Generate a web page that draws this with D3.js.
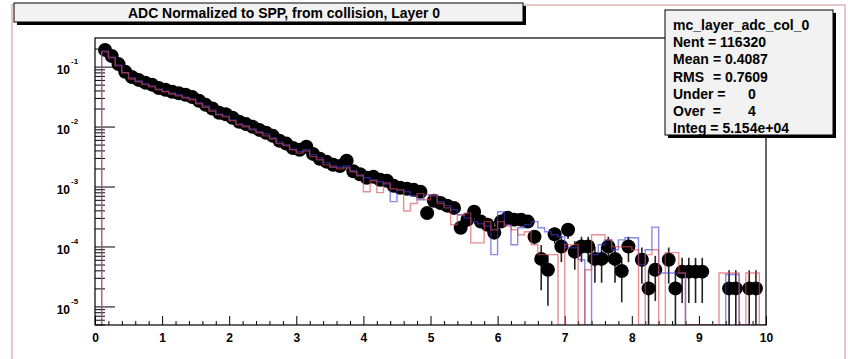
<!DOCTYPE html>
<html>
<head>
<meta charset="utf-8">
<script src="https://cdn.jsdelivr.net/npm/d3@7"></script>
<style>
  html, body { margin: 0; padding: 0; background: #fff; }
  svg { display: block; }
  text { font-family: "Liberation Sans", Arial, Helvetica, sans-serif; font-weight: bold; fill: #000; }
</style>
</head>
<body>
<svg id="chart" width="848" height="359"></svg>
<script>
// histogram binning: 100 bins of 0.1 from 0 to 10
const binEdges = d3.range(101).map(i => i / 10);

// data (black markers), bin contents
const dataValues = [
  0, 1.9e-1, 1.5e-1, 1.1e-1, 8.2e-2, 6.7e-2, 6.0e-2, 5.4e-2, 5.0e-2, 4.4e-2,
  4.1e-2, 3.8e-2, 3.6e-2, 3.4e-2, 3.1e-2, 2.7e-2, 2.3e-2, 2.0e-2, 1.7e-2, 1.6e-2,
  1.4e-2, 1.2e-2, 1.1e-2, 9.9e-3, 8.8e-3, 7.9e-3, 7.0e-3, 5.8e-3, 5.2e-3, 4.4e-3,
  4.1e-3, 4.6e-3, 3.5e-3, 2.9e-3, 2.6e-3, 2.3e-3, 2.2e-3, 2.7e-3, 1.8e-3, 1.6e-3,
  1.4e-3, 1.45e-3, 1.3e-3, 1.25e-3, 1.03e-3, 9.5e-4, 9.2e-4, 8.8e-4, 8.2e-4, 3.6e-4,
  5.8e-4, 5.3e-4, 4.8e-4, 4.4e-4, 2.05e-4, 2.8e-4, 3.8e-4, 2.6e-4, 2.3e-4, 1.7e-4,
  2.6e-4, 3.0e-4, 2.8e-4, 2.8e-4, 2.6e-4, 1.45e-4, 6.2e-5, 4.1e-5, 1.6e-4, 1.0e-4,
  1.9e-4, 8.2e-5, 1.0e-4, 1.0e-4, 6.2e-5, 6.2e-5, 1.0e-4, 6.2e-5, 3.9e-5, 1.0e-4,
  0, 6.0e-5, 2.0e-5, 4.1e-5, 0, 6.0e-5, 2.0e-5, 3.8e-5, 3.8e-5, 3.8e-5,
  3.8e-5, 0, 0, 0, 2.0e-5, 2.0e-5, 0, 2.0e-5, 2.0e-5, 0
];

// relative errors on data
const dataRelErr = [
  0, 0.01, 0.01, 0.01, 0.01, 0.01, 0.01, 0.01, 0.01, 0.01,
  0.02, 0.02, 0.02, 0.02, 0.02, 0.02, 0.02, 0.02, 0.02, 0.02,
  0.03, 0.03, 0.03, 0.03, 0.03, 0.03, 0.03, 0.03, 0.03, 0.03,
  0.05, 0.05, 0.05, 0.05, 0.05, 0.05, 0.05, 0.05, 0.05, 0.05,
  0.08, 0.08, 0.08, 0.08, 0.08, 0.08, 0.08, 0.08, 0.08, 0.12,
  0.15, 0.15, 0.15, 0.15, 0.2, 0.15, 0.15, 0.15, 0.18, 0.2,
  0.2, 0.2, 0.2, 0.2, 0.2, 0.25, 0.7, 0.75, 0.3, 0.45,
  0.3, 0.5, 0.45, 0.45, 0.6, 0.6, 0.45, 0.6, 0.7, 0.45,
  0, 0.6, 1.0, 0.7, 0, 0.6, 1.0, 0.7, 0.7, 0.7,
  0.7, 0, 0, 0, 1.0, 1.0, 0, 1.0, 1.0, 0
];

// simulation, red histogram
const mcRedValues = [
  0, 1.76e-1, 1.4e-1, 1.03e-1, 7.9e-2, 6.2e-2, 5.6e-2, 5.0e-2, 4.6e-2, 4.1e-2,
  3.8e-2, 3.5e-2, 3.25e-2, 3.0e-2, 2.8e-2, 2.4e-2, 2.1e-2, 1.8e-2, 1.57e-2, 1.45e-2,
  1.25e-2, 1.07e-2, 9.9e-3, 8.8e-3, 7.9e-3, 7.0e-3, 6.2e-3, 5.2e-3, 4.8e-3, 4.1e-3,
  3.6e-3, 3.9e-3, 3.15e-3, 2.8e-3, 2.3e-3, 2.1e-3, 1.97e-3, 2.05e-3, 1.76e-3, 1.51e-3,
  8.2e-4, 1.25e-3, 7.9e-4, 1.15e-3, 9.2e-4, 8.8e-4, 3.9e-4, 5.2e-4, 7.6e-4, 6.0e-4,
  7.3e-4, 5.2e-4, 4.4e-4, 2.3e-4, 3.3e-4, 3.6e-4, 1.15e-4, 1.15e-4, 2.6e-4, 1.9e-4,
  2.6e-4, 2.2e-4, 1.9e-4, 1.57e-4, 1.76e-4, 1.07e-4, 7.3e-5, 7.3e-5, 7.3e-5, 0,
  1.07e-4, 1.07e-4, 0, 4.1e-5, 1.57e-4, 1.57e-4, 1.29e-4, 9.9e-5, 9.9e-5, 9.9e-5,
  8.8e-5, 0, 7.3e-5, 8.8e-5, 0, 7.9e-5, 7.9e-5, 3.6e-5, 0, 0,
  0, 0, 0, 3.6e-5, 3.6e-5, 3.6e-5, 0, 3.6e-5, 3.6e-5, 0
];

// simulation, blue histogram
const mcBlueValues = [
  0, 1.83e-1, 1.45e-1, 1.07e-1, 7.9e-2, 6.5e-2, 5.8e-2, 5.2e-2, 4.8e-2, 4.25e-2,
  3.9e-2, 3.6e-2, 3.4e-2, 3.1e-2, 2.9e-2, 2.5e-2, 2.2e-2, 1.9e-2, 1.63e-2, 1.51e-2,
  1.29e-2, 1.11e-2, 1.03e-2, 9.2e-3, 8.2e-3, 7.6e-3, 6.5e-3, 5.5e-3, 5.0e-3, 4.2e-3,
  3.8e-3, 4.1e-3, 3.4e-3, 3.0e-3, 2.5e-3, 2.2e-3, 2.1e-3, 2.2e-3, 1.83e-3, 1.57e-3,
  1.4e-3, 1.29e-3, 1.2e-3, 1.1e-3, 5.6e-4, 8.8e-4, 8.2e-4, 7.0e-4, 6.0e-4, 7.3e-4,
  7.0e-4, 5.6e-4, 4.8e-4, 4.1e-4, 3.4e-4, 3.0e-4, 2.6e-4, 2.4e-4, 2.2e-4, 7.3e-5,
  3.8e-4, 2.3e-4, 1.07e-4, 2.05e-4, 2.3e-4, 2.6e-4, 2.05e-4, 1.76e-4, 1.57e-4, 1.45e-4,
  9.5e-5, 9.5e-5, 6.0e-5, 0, 7.3e-5, 1.07e-4, 1.29e-4, 8.8e-5, 1.29e-4, 1.4e-4,
  1.4e-4, 5.0e-5, 8.8e-5, 2.1e-4, 3.6e-5, 3.6e-5, 3.6e-5, 3.6e-5, 0, 0,
  0, 0, 0, 0, 3.4e-5, 3.4e-5, 0, 0, 0, 0
];

const xTickLabels = ['0', '1', '2', '3', '4', '5', '6', '7', '8', '9', '10'];
const yTickExponents = [-1, -2, -3, -4, -5];

const titleText = 'ADC Normalized to SPP, from collision, Layer 0';
const statsLines = [
  ['mc_layer_adc_col_0', ''],
  ['Nent = 116320', ''],
  ['Mean', '= 0.4087'],
  ['RMS', '= 0.7609'],
  ['Under =', '0'],
  ['Over  =', '4'],
  ['Integ = 5.154e+04', '']
];

// layout
const frame = { left: 95, right: 766, top: 38, bottom: 325 };
const x = d3.scaleLinear().domain([0, 10]).range([frame.left, frame.right]);
const y = d3.scaleLog().domain([4.9e-6, 0.3]).range([frame.bottom, frame.top]);

const svg = d3.select('#chart');

// pad border
svg.append('rect')
  .attr('x', 12).attr('y', 5).attr('width', 833).attr('height', 360)
  .attr('fill', 'none').attr('stroke', '#e7c6c8').attr('stroke-width', 2);

svg.append('clipPath').attr('id', 'frameClip')
  .append('rect')
  .attr('x', frame.left).attr('y', frame.top - 2)
  .attr('width', frame.right - frame.left).attr('height', frame.bottom - frame.top + 2);

// --- axes ---
const xMajor = xTickLabels.map(Number);
const xMinor = d3.range(51).map(i => i / 5).filter(v => !xMajor.includes(v));

svg.append('g')
  .attr('transform', `translate(0,${frame.bottom})`)
  .call(d3.axisBottom(x).tickValues(xMinor).tickSize(-4).tickFormat(''))
  .call(g => g.select('.domain').remove());

svg.append('g')
  .attr('transform', `translate(0,${frame.bottom})`)
  .call(d3.axisBottom(x).tickValues(xMajor).tickSize(-9).tickPadding(8)
    .tickFormat((d, i) => xTickLabels[i]))
  .call(g => g.select('.domain').remove())
  .call(g => g.selectAll('text')
    .attr('font-size', 12).attr('font-family', null).attr('dy', '0.75em'));

const yMajor = yTickExponents.map(e => Math.pow(10, e));
const yMinor = [];
[-6, -5, -4, -3, -2, -1].forEach(e => {
  d3.range(2, 10).forEach(m => {
    const v = m * Math.pow(10, e);
    if (v >= y.domain()[0] && v <= y.domain()[1]) yMinor.push(v);
  });
});

svg.append('g')
  .attr('transform', `translate(${frame.left},0)`)
  .call(d3.axisLeft(y).tickValues(yMinor).tickSize(-10).tickFormat(''))
  .call(g => g.select('.domain').remove());

const yAxis = svg.append('g')
  .attr('transform', `translate(${frame.left},0)`)
  .call(d3.axisLeft(y).tickValues(yMajor).tickSize(-20).tickFormat(''))
  .call(g => g.select('.domain').remove());

yAxis.selectAll('.tick').each(function (d, i) {
  const t = d3.select(this);
  t.append('text')
    .attr('x', -25).attr('y', 7).attr('text-anchor', 'end')
    .attr('font-size', 12).attr('font-family', null)
    .text('10');
  t.append('text')
    .attr('x', -24).attr('y', -3).attr('text-anchor', 'start')
    .attr('font-size', 8).attr('font-family', null)
    .text(yTickExponents[i]);
});

svg.selectAll('.tick line').attr('stroke', '#000').attr('stroke-width', 1);

// --- data points with error bars ---
const points = dataValues
  .map((v, i) => ({ v, e: dataRelErr[i], c: (binEdges[i] + binEdges[i + 1]) / 2 }))
  .filter(d => d.v > 0);

const dataG = svg.append('g').attr('clip-path', 'url(#frameClip)');
dataG.selectAll('line.err')
  .data(points.filter(d => d.e > 0.15))
  .join('line')
  .attr('class', 'err')
  .attr('x1', d => x(d.c)).attr('x2', d => x(d.c))
  .attr('y1', d => y(d.v * (1 + d.e)))
  .attr('y2', d => d.e >= 1 ? frame.bottom : y(d.v * (1 - d.e)))
  .attr('stroke', '#222').attr('stroke-width', 1.6);

dataG.selectAll('circle')
  .data(points)
  .join('circle')
  .attr('cx', d => x(d.c)).attr('cy', d => y(d.v))
  .attr('r', 7)
  .attr('fill', '#000');

// --- histograms, drawn over the markers, a little faded ---
function stepPoints(vals) {
  const pts = [];
  vals.forEach((v, i) => {
    const yy = v > 0 ? y(v) : frame.bottom;
    pts.push([x(binEdges[i]), yy], [x(binEdges[i + 1]), yy]);
  });
  return pts;
}
const line = d3.line();
const hists = svg.append('g').attr('clip-path', 'url(#frameClip)');

hists.append('path')
  .attr('d', line(stepPoints(mcBlueValues)))
  .attr('fill', 'none').attr('stroke', '#3b3bd6').attr('stroke-width', 1.4)
  .attr('stroke-opacity', 0.6);

hists.append('path')
  .attr('d', line(stepPoints(mcRedValues)))
  .attr('fill', 'none').attr('stroke', '#d9474c').attr('stroke-width', 1.4)
  .attr('stroke-opacity', 0.6);

// frame
svg.append('rect')
  .attr('x', frame.left).attr('y', frame.top)
  .attr('width', frame.right - frame.left).attr('height', frame.bottom - frame.top)
  .attr('fill', 'none').attr('stroke', '#000').attr('stroke-width', 1.2);

// --- title box ---
const tb = { x: 14, y: 3, w: 509, h: 19 };
svg.append('rect')
  .attr('x', tb.x + 3).attr('y', tb.y + 3).attr('width', tb.w).attr('height', tb.h)
  .attr('fill', '#000');
svg.append('rect')
  .attr('x', tb.x).attr('y', tb.y).attr('width', tb.w).attr('height', tb.h)
  .attr('fill', '#f2f2f2').attr('stroke', '#000').attr('stroke-width', 1);
svg.append('text')
  .attr('x', 284).attr('y', tb.y + 14.5)
  .attr('text-anchor', 'middle').attr('font-size', 14)
  .attr('textLength', 312).attr('lengthAdjust', 'spacingAndGlyphs')
  .text(titleText);

// --- stats box ---
const sb = { x: 665, y: 10, w: 168, h: 125 };
svg.append('rect')
  .attr('x', sb.x + 3).attr('y', sb.y + 3).attr('width', sb.w).attr('height', sb.h)
  .attr('fill', '#000');
svg.append('rect')
  .attr('x', sb.x).attr('y', sb.y).attr('width', sb.w).attr('height', sb.h)
  .attr('fill', '#f2f2f2').attr('stroke', '#000').attr('stroke-width', 1);

const valueX = { 'Mean': 713, 'RMS': 713, 'Under =': 748, 'Over  =': 748 };
statsLines.forEach((ln, k) => {
  const by = sb.y + 20 + k * 17.2;
  svg.append('text')
    .attr('x', sb.x + 8).attr('y', by)
    .attr('font-size', 14).attr('xml:space', 'preserve')
    .text(ln[0]);
  if (ln[1]) {
    svg.append('text')
      .attr('x', valueX[ln[0]]).attr('y', by)
      .attr('font-size', 14)
      .text(ln[1]);
  }
});
</script>
</body>
</html>
